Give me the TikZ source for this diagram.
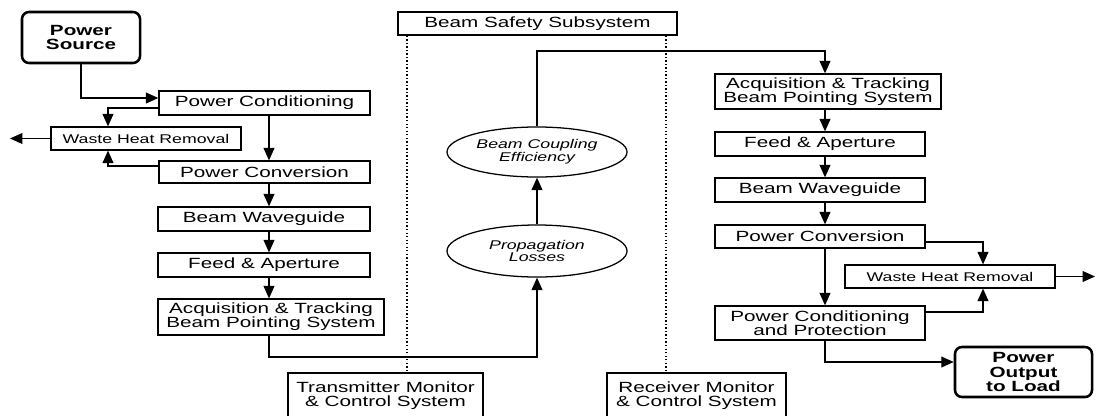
\documentclass[tikz,border=0pt]{standalone}
\usepackage{fontspec}
\setmainfont{Liberation Sans}[FakeStretch=1.4]
\usetikzlibrary{arrows.meta,shapes.geometric}
\begin{document}
\begin{tikzpicture}[x=0.025cm,y=-0.025cm,
    blk/.style={draw,line width=0.9pt,inner sep=0pt,align=center,font=\fontsize{10.5}{10}\selectfont},
    sblk/.style={blk,font=\fontsize{9}{9}\selectfont},
    endblk/.style={draw,line width=1.8pt,rounded corners=5pt,inner sep=0pt,align=center,font=\bfseries\fontsize{10.5}{10.5}\selectfont},
    oval/.style={draw,ellipse,line width=0.9pt,inner sep=0pt,align=center,font=\itshape\fontsize{9}{9}\selectfont},
    arr/.style={line width=0.9pt,-{Triangle[length=3.1mm,width=2.7mm]}},
    dotline/.style={line width=0.9pt,dash pattern=on 1pt off 1.5pt}]
    \useasboundingbox (0,0) rectangle (1096,415);
    \clip (0,0) rectangle (1096,415);
    \node (psrc) at (81,37.5) [endblk,minimum width=2.95cm,minimum height=1.275cm] {Power\\Source};
    \node (tpc) at (264.5,103) [blk,minimum width=5.275cm,minimum height=0.6cm] {Power Conditioning};
    \node (twhr) at (146,138.5) [sblk,minimum width=4.75cm,minimum height=0.575cm] {Waste Heat Removal};
    \node (tpcv) at (264.5,172) [blk,minimum width=5.275cm,minimum height=0.55cm] {Power Conversion};
    \node (tbw) at (264,219) [blk,minimum width=5.3cm,minimum height=0.6cm] {Beam Waveguide};
    \node (tfa) at (264,265) [blk,minimum width=5.3cm,minimum height=0.6cm] {Feed \& Aperture};
    \node (tacq) at (271,317) [blk,minimum width=5.65cm,minimum height=0.9cm] {Acquisition \& Tracking\\Beam Pointing System};
    \node (bss) at (537.5,23.5) [blk,minimum width=6.975cm,minimum height=0.575cm] {Beam Safety Subsystem};
    \node (bce) at (537,152) [oval,minimum width=4.5cm,minimum height=1.25cm] {Beam Coupling\\Efficiency};
    \node (prl) at (537,251) [oval,minimum width=4.5cm,minimum height=1.3cm] {Propagation\\Losses};
    \node (tmc) at (385.5,396) [blk,minimum width=4.875cm,minimum height=1.15cm] {Transmitter Monitor\\\& Control System};
    \node (rmc) at (696.5,396) [blk,minimum width=4.475cm,minimum height=1.15cm] {Receiver Monitor\\\& Control System};
    \node (racq) at (828,91.5) [blk,minimum width=5.65cm,minimum height=0.875cm] {Acquisition \& Tracking\\Beam Pointing System};
    \node (rfa) at (820,144) [blk,minimum width=5.25cm,minimum height=0.6cm] {Feed \& Aperture};
    \node (rbw) at (820,190) [blk,minimum width=5.25cm,minimum height=0.6cm] {Beam Waveguide};
    \node (rpcv) at (820,236.5) [blk,minimum width=5.25cm,minimum height=0.575cm] {Power Conversion};
    \node (rwhr) at (950,276.5) [sblk,minimum width=5.25cm,minimum height=0.575cm] {Waste Heat Removal};
    \node (rpcp) at (820,323) [blk,minimum width=5.25cm,minimum height=0.85cm] {Power Conditioning\\and Protection};
    \node (pout) at (1023.5,372) [endblk,minimum width=3.425cm,minimum height=1.25cm] {Power\\Output\\to Load};
    \coordinate (tx) at (269,0);
    \coordinate (rx) at (825,0);
    \coordinate (cx) at (108,0);
    \coordinate (wx) at (983,0);
    \coordinate (dl) at (407,0);
    \coordinate (dr) at (666,0);
    \coordinate (tlow) at (0,357);
    \coordinate (ttop) at (0,51);
    \coordinate (wl) at (10,138.5);
    \coordinate (wr) at (1095,276.5);
    \draw[arr] (psrc.south) |- ([yshift=0.125cm]tpc.west);
    \draw[arr] ([yshift=-0.125cm]tpc.west) -| (cx |- twhr.north);
    \draw[arr] ([yshift=0.15cm]tpcv.west) -| (cx |- twhr.south);
    \draw[arr] (twhr.west) -- (wl);
    \draw[arr] (tx |- tpc.south) -- (tx |- tpcv.north);
    \draw[arr] (tx |- tpcv.south) -- (tx |- tbw.north);
    \draw[arr] (tx |- tbw.south) -- (tx |- tfa.north);
    \draw[arr] (tx |- tfa.south) -- (tx |- tacq.north);
    \draw[arr] (tx |- tacq.south) -- (tx |- tlow) -| (prl.south);
    \draw[arr] (prl.north) -- (bce.south);
    \draw[arr] (bce.north) -- (bce.north |- ttop) -| (rx |- racq.north);
    \draw[arr] (rx |- racq.south) -- (rx |- rfa.north);
    \draw[arr] (rx |- rfa.south) -- (rx |- rbw.north);
    \draw[arr] (rx |- rbw.south) -- (rx |- rpcv.north);
    \draw[arr] (rx |- rpcv.south) -- (rx |- rpcp.north);
    \draw[arr] ([yshift=-0.14cm]rpcv.east) -| (wx |- rwhr.north);
    \draw[arr] ([yshift=0.275cm]rpcp.east) -| (wx |- rwhr.south);
    \draw[arr] (rwhr.east) -- (wr);
    \draw[arr] (rx |- rpcp.south) |- ([yshift=0.25cm]pout.west);
    \draw[dotline] (dl |- bss.south) -- (dl |- tmc.north);
    \draw[dotline] (dr |- bss.south) -- (dr |- rmc.north);
\end{tikzpicture}
\end{document}
